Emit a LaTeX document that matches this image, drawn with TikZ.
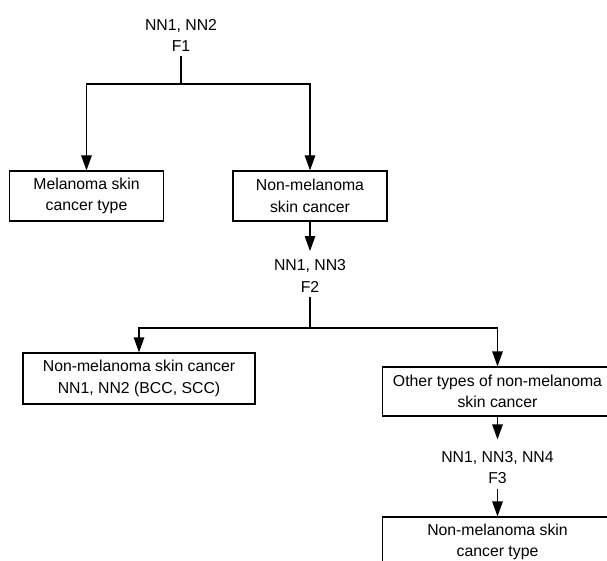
\documentclass[tikz,border=0pt]{standalone}
\usepackage{fontspec}
\setmainfont{Liberation Sans}
\usetikzlibrary{arrows.meta}
\begin{document}
\begin{tikzpicture}[x=1pt,y=-1pt,
  line width=1.2pt,
  txt/.style={font=\fontsize{15.8}{21.7}\selectfont, align=center},
  box/.style={txt, draw, rectangle, inner sep=0pt, minimum height=50pt},
  lab/.style={txt, inner sep=4pt},
  arr/.style={-{Triangle[length=15pt,width=10.5pt]}},
]
\useasboundingbox (0,0) rectangle (607,561);
\clip (0,0) rectangle (607,561);

\node[lab] (l1) at (181,35.5) {NN1, NN2\\F1};
\node[box, minimum width=154pt] (b1) at (86.5,196) {Melanoma skin\\cancer type};
\node[box, minimum width=154pt] (b2) at (310,196) {Non-melanoma\\skin cancer};
\node[lab] (l2) at (310,276) {NN1, NN3\\F2};
\node[box, minimum width=232pt, minimum height=51pt] (b3) at (139,378.5) {Non-melanoma skin cancer\\NN1, NN2 (BCC, SCC)};
\node[box, minimum width=230pt, minimum height=49pt] (b4) at (497.5,391.5) {Other types of non-melanoma\\skin cancer};
\node[lab] (l3) at (497.5,467.5) {NN1, NN3, NN4\\F3};
\node[box, minimum width=230pt] (b5) at (497.5,542) {Non-melanoma skin\\cancer type};

\coordinate (j1) at (181,84);
\coordinate (j2) at (310,328);

\draw (l1.south) -- (j1);
\draw[arr] (j1) -| (b1.north);
\draw[arr] (j1) -| (b2.north);
\draw[arr, shorten >=4pt] (b2.south) -- (l2.north);
\draw (l2.south) -- (j2);
\draw[arr] (j2) -| (b3.north);
\draw[arr] (j2) -| (b4.north);
\draw[arr, shorten >=7pt] (b4.south) -- (l3.north);
\draw[arr] (l3.south) -- (b5.north);
\end{tikzpicture}
\end{document}
